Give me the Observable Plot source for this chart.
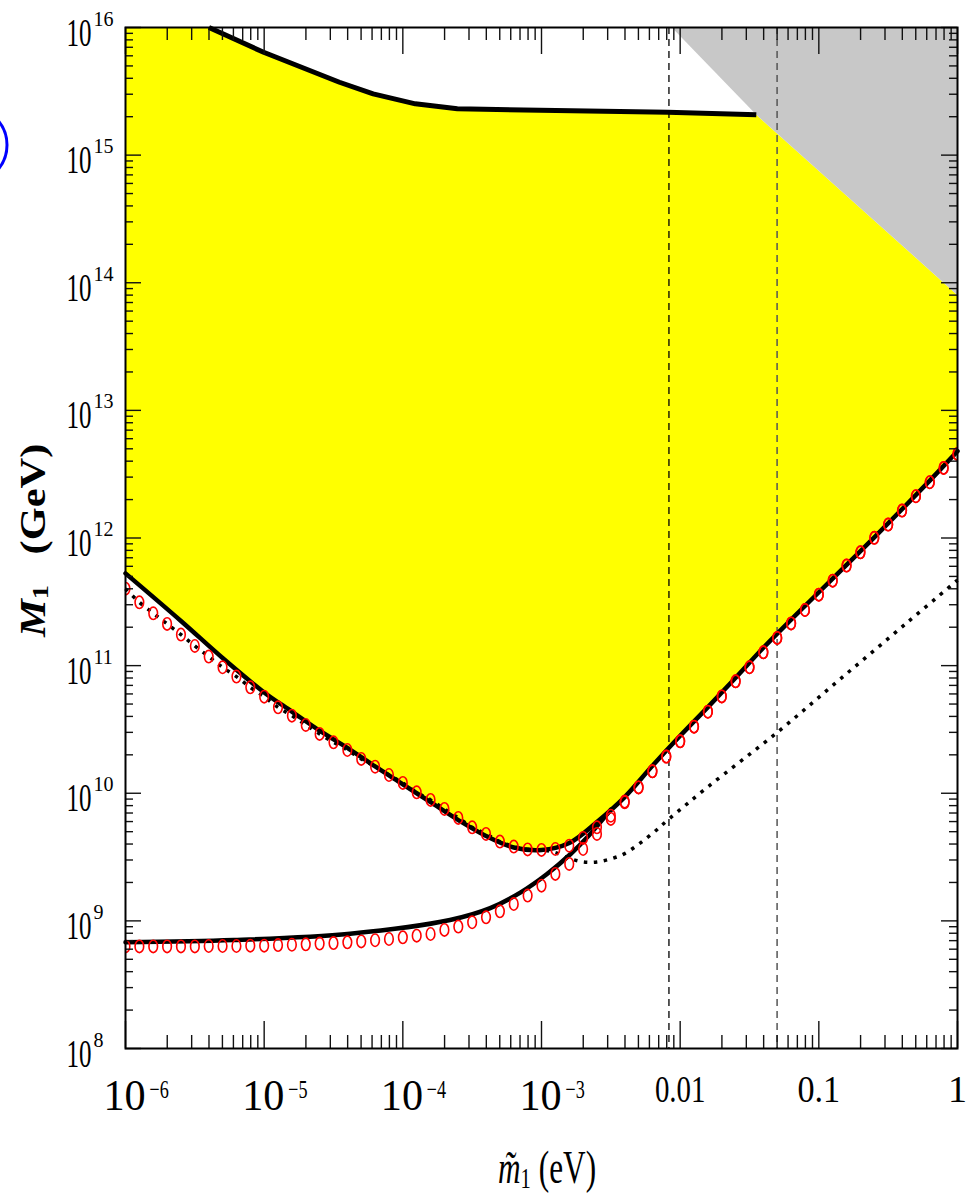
<!DOCTYPE html>
<html>
<head>
<meta charset="utf-8">
<script src="https://cdn.jsdelivr.net/npm/d3@7"></script>
<script src="https://cdn.jsdelivr.net/npm/@observablehq/plot@0.6"></script>
<style>
  html, body { margin: 0; padding: 0; background: #fff; }
  #chart { width: 967px; height: 1196px; overflow: hidden; }
</style>
</head>
<body>
<div id="chart"></div>
<script>
// ---------------- DATA (log10 values) ----------------
// x = log10( m̃1 / eV ), y = log10( M1 / GeV )

// red circle samples (two series sharing the same m̃1 grid)
const circleLogM = [-6.0,-5.9,-5.8,-5.7,-5.6,-5.5,-5.4,-5.3,-5.2,-5.1,-5.0,-4.9,-4.8,-4.7,-4.6,-4.5,-4.4,-4.3,-4.2,-4.1,
  -4.0,-3.9,-3.8,-3.7,-3.6,-3.5,-3.4,-3.3,-3.2,-3.1,-3.0,-2.9,-2.8,-2.7,-2.6,-2.5,-2.4,-2.3,-2.2,-2.1,
  -2.0,-1.9,-1.8,-1.7,-1.6,-1.5,-1.4,-1.3,-1.2,-1.1,-1.0,-0.9,-0.8,-0.7,-0.6,-0.5,-0.4,-0.3,-0.2,-0.1,0.0];
const circleUpperLogM1 = [11.603,11.496,11.410,11.327,11.243,11.154,11.071,10.987,10.914,10.830,
  10.757,10.673,10.608,10.535,10.465,10.399,10.339,10.269,10.208,10.143,
  10.081,10.007,9.948,9.877,9.807,9.733,9.681,9.621,9.582,9.560,
  9.556,9.563,9.589,9.650,9.733,9.824,9.935,10.046,10.172,10.287,
  10.407,10.522,10.639,10.759,10.877,10.987,11.104,11.217,11.331,11.436,
  11.556,11.666,11.784,11.888,12.001,12.105,12.215,12.327,12.437,12.549,12.659];
const circleLowerLogM1 = [8.800,8.800,8.800,8.800,8.800,8.800,8.803,8.803,8.803,8.806,
  8.806,8.810,8.813,8.816,8.822,8.826,8.832,8.839,8.848,8.858,
  8.871,8.884,8.897,8.929,8.955,8.989,9.028,9.075,9.132,9.198,
  9.276,9.368,9.446,9.563,9.681,9.799,9.929,10.046,10.172,10.287,
  10.407,10.522,10.639,10.759,10.877,10.987,11.104,11.217,11.331,11.436,
  11.556,11.666,11.784,11.888,12.001,12.105,12.215,12.327,12.437,12.549,12.659];

// thick solid curve: left branch, minimum, right branch (lower edge of the yellow region)
const solidALogM  = [-6.0,-5.6,-5.3,-5.0,-4.8,-4.6,-4.4,-4.2,-4.0,-3.8,-3.6,-3.4,-3.2,-3.0,-2.8,-2.6,-2.4,-2.2,-2.0,-1.8,-1.6,-1.4,-1.2,-1.0,-0.8,-0.6,-0.4,-0.2,0.0];
const solidALogM1 = [11.723,11.35,11.06,10.79,10.64,10.49,10.355,10.21,10.07,9.93,9.79,9.665,9.575,9.555,9.61,9.775,9.97,10.215,10.45,10.675,10.905,11.14,11.36,11.575,11.79,12.005,12.225,12.45,12.68];

// thick solid lower curve, joining the right branch
const solidBLogM  = [-6.0,-5.22,-4.38,-3.66,-3.37,-3.15,-2.96,-2.79,-2.67,-2.5];
const solidBLogM1 = [8.832,8.85,8.90,9.007,9.10,9.223,9.367,9.524,9.655,9.872];

// upper thick curve (top edge of the yellow region)
const upperLogM  = [-5.398,-5.004,-4.457,-4.214,-3.910,-3.607,-2.089,-1.451];
const upperLogM1 = [16.0,15.806,15.571,15.480,15.402,15.363,15.336,15.316];

// dotted curve
const dottedLogM  = [-6.0,-5.9,-5.8,-5.7,-5.6,-5.5,-5.4,-5.3,-5.2,-5.1,-5.0,-4.9,-4.8,-4.7,-4.6,-4.5,-4.4,-4.3,-4.2,-4.1,
  -4.0,-3.9,-3.8,-3.7,-3.6,-3.5,-3.4,-3.3,-3.2,-3.1,-3.0,-2.9,-2.8,-2.7,-2.6,-2.5,-2.4,-2.3,-2.2,-2.08,-1.8,-1.3,-0.84,-0.36,0.0];
const dottedLogM1 = [11.603,11.496,11.410,11.327,11.243,11.154,11.071,10.987,10.914,10.830,
  10.757,10.673,10.608,10.535,10.465,10.399,10.339,10.269,10.208,10.143,
  10.081,10.007,9.948,9.877,9.807,9.733,9.681,9.621,9.582,9.560,
  9.556,9.535,9.49,9.462,9.462,9.486,9.527,9.60,9.685,9.799,10.05,10.477,10.90,11.34,11.67];

// grey excluded triangle (corners)
const grayLogM  = [-2.06, 0.0, 0.0, -1.451];
const grayLogM1 = [16.0, 16.0, 13.903, 15.316];

// vertical dashed reference lines (eV)
const dashedBlack = [0.0083];
const dashedGrey  = [0.05];

// axis ticks
const xTickValues = [1e-6, 1e-5, 1e-4, 1e-3, 0.01, 0.1, 1];
const xTickBase   = ["10", "10", "10", "10"];
const xTickExp    = ["\u22126", "\u22125", "\u22124", "\u22123"];
const xTickPlain  = ["0.01", "0.1", "1"];
const yTickValues = [1e8, 1e9, 1e10, 1e11, 1e12, 1e13, 1e14, 1e15, 1e16];
const yTickExp    = ["8", "9", "10", "11", "12", "13", "14", "15", "16"];

// ---------------- BUILD TABLES ----------------
const P = v => Math.pow(10, v);
const pts = (xs, ys) => xs.map((x, i) => ({m: P(x), M: P(ys[i])}));

const circlesUpper = pts(circleLogM, circleUpperLogM1);
const circlesLower = pts(circleLogM, circleLowerLogM1);
const solidA = pts(solidALogM, solidALogM1);
const solidB = pts(solidBLogM, solidBLogM1);
const upper = pts(upperLogM, upperLogM1);
const dotted = pts(dottedLogM, dottedLogM1);
const gray = pts(grayLogM, grayLogM1);
const yellow = [
  {m: 1e-6, M: 1e16},
  ...upper,
  gray[2],
  ...solidA.slice().reverse()
];

const xPow = xTickValues.slice(0, 4).map((v, i) => ({v, base: xTickBase[i], exp: xTickExp[i]}));
const xPlain = xTickValues.slice(4).map((v, i) => ({v, t: xTickPlain[i]}));
const yLab = yTickValues.map((v, i) => ({v, exp: yTickExp[i]}));

const isPow10 = t => Math.abs(Math.log10(t) - Math.round(Math.log10(t))) < 1e-9;
const xMinor = d3.scaleLog().domain([1e-6, 1]).ticks().filter(t => !isPow10(t));
const yMinor = d3.scaleLog().domain([1e8, 1e16]).ticks().filter(t => !isPow10(t));

// elliptical open marker
const ellipse = {
  draw(ctx) {
    const rx = 4.3, ry = 6.2, k = 0.5523;
    ctx.moveTo(rx, 0);
    ctx.bezierCurveTo(rx, ry * k, rx * k, ry, 0, ry);
    ctx.bezierCurveTo(-rx * k, ry, -rx, ry * k, -rx, 0);
    ctx.bezierCurveTo(-rx, -ry * k, -rx * k, -ry, 0, -ry);
    ctx.bezierCurveTo(rx * k, -ry, rx, -ry * k, rx, 0);
    ctx.closePath();
  }
};

// ---------------- PLOT ----------------
const W = 967, H = 1196, mL = 125, mR = 10, mT = 27, mB = 148;
const pw = W - mL - mR, ph = H - mT - mB;
const font = "'Liberation Serif', 'DejaVu Serif', serif";
const tickStroke = {stroke: "#111", strokeWidth: 1.4};

const plot = Plot.plot({
  width: W, height: H,
  marginLeft: mL, marginRight: mR, marginTop: mT, marginBottom: mB,
  x: {type: "log", domain: [1e-6, 1], axis: null},
  y: {type: "log", domain: [1e8, 1e16], axis: null},
  style: {background: "white", fontFamily: font, overflow: "visible"},
  marks: [
    Plot.line(yellow, {x: "m", y: "M", fill: "#ffff00", stroke: "none", curve: "linear"}),
    Plot.line(gray, {x: "m", y: "M", fill: "#c8c8c8", stroke: "none", curve: "linear"}),
    Plot.ruleX(dashedBlack, {stroke: "#000", strokeWidth: 1.3, strokeDasharray: "7,5"}),
    Plot.ruleX(dashedGrey, {stroke: "#555", strokeWidth: 1.5, strokeDasharray: "7,5"}),
    Plot.line(upper, {x: "m", y: "M", stroke: "#000", strokeWidth: 5, strokeLinecap: "butt"}),
    Plot.line(solidA, {x: "m", y: "M", stroke: "#000", strokeWidth: 4.5, curve: "catmull-rom"}),
    Plot.line(solidB, {x: "m", y: "M", stroke: "#000", strokeWidth: 4.5, curve: "catmull-rom"}),
    Plot.line(dotted, {x: "m", y: "M", stroke: "#000", strokeWidth: 3.5, strokeDasharray: "3.5,6.5", strokeLinecap: "butt", curve: "catmull-rom"}),
    Plot.dot(circlesUpper, {x: "m", y: "M", symbol: ellipse, stroke: "#ff0000", fill: "none", strokeWidth: 1.6, clip: true}),
    Plot.dot(circlesLower, {x: "m", y: "M", symbol: ellipse, stroke: "#ff0000", fill: "none", strokeWidth: 1.6, clip: true}),
    // ticks (inward, all four sides)
    Plot.ruleX(xTickValues, {...tickStroke, insetTop: ph - 27}),
    Plot.ruleX(xTickValues, {...tickStroke, insetBottom: ph - 27}),
    Plot.ruleX(xMinor, {...tickStroke, insetTop: ph - 13}),
    Plot.ruleX(xMinor, {...tickStroke, insetBottom: ph - 13}),
    Plot.ruleY(yTickValues, {...tickStroke, insetRight: pw - 16}),
    Plot.ruleY(yTickValues, {...tickStroke, insetLeft: pw - 16}),
    Plot.ruleY(yMinor, {...tickStroke, insetRight: pw - 8}),
    Plot.ruleY(yMinor, {...tickStroke, insetLeft: pw - 8}),
    Plot.frame({stroke: "#000", strokeWidth: 2}),
    // x tick labels
    Plot.text(xPow, {x: "v", text: "base", frameAnchor: "bottom", lineAnchor: "bottom", textAnchor: "start", dx: -22, dy: 61, fontSize: 44, fontFamily: font}),
    Plot.text(xPow, {x: "v", text: "exp", frameAnchor: "bottom", lineAnchor: "bottom", textAnchor: "start", dx: 24, dy: 49, fontSize: 26, fontFamily: font}),
    Plot.text(xPlain, {x: "v", text: "t", frameAnchor: "bottom", lineAnchor: "bottom", textAnchor: "middle", dy: 53, fontSize: 38, fontFamily: font}),
    // y tick labels
    Plot.text(yLab, {y: "v", text: () => "10", frameAnchor: "left", lineAnchor: "bottom", textAnchor: "start", dx: -59, dy: 18, fontSize: 40, fontFamily: font}),
    Plot.text(yLab, {y: "v", text: "exp", frameAnchor: "left", lineAnchor: "bottom", textAnchor: "start", dx: -32, dy: -2, fontSize: 20, fontFamily: font})
  ]
});

// condense a few labels to match the narrow lettering of the original
const svg = d3.select(plot);
const textGroups = svg.selectAll('g[aria-label="text"]').nodes();
const [gXBase, gXExp, gXPlain, gYBase] = textGroups;
function condense(el, factor, fallbackLength) {
  const tr = el.getAttribute("transform");
  if (tr && /translate/.test(tr) && !el.hasAttribute("x") && !el.hasAttribute("dx")) {
    el.setAttribute("transform", tr + ` scale(${factor},1)`);
  } else {
    el.setAttribute("textLength", fallbackLength);
    el.setAttribute("lengthAdjust", "spacingAndGlyphs");
  }
}
d3.select(gYBase).selectAll("text").each(function() { condense(this, 0.625, 25); });
d3.select(gXExp).selectAll("text").each(function() { condense(this, 0.7, 19); });
d3.select(gXBase).selectAll("text").each(function() { condense(this, 0.96, 42); });
d3.select(gXPlain).selectAll("text").each(function() {
  const t = this.textContent;
  if (t === "0.01") condense(this, 0.76, 50);
  else if (t === "0.1") condense(this, 0.9, 45);
});

// axis titles
const g = svg.append("g").attr("font-family", font).attr("fill", "#000");
const xl = g.append("text")
  .attr("transform", "translate(547,1183) scale(0.68,1)")
  .attr("text-anchor", "middle").attr("font-size", 46);
xl.append("tspan").attr("font-style", "italic").text("m\u0303");
xl.append("tspan").attr("font-size", 30).attr("dy", 5).text("1");
xl.append("tspan").attr("dy", -5).attr("dx", 12).text("(eV)");

const yl = g.append("text")
  .attr("transform", "translate(45,637) rotate(-90) scale(1.18,1)")
  .attr("text-anchor", "start").attr("font-size", 36).attr("font-weight", "bold");
yl.append("tspan").attr("font-style", "italic").text("M");
yl.append("tspan").attr("font-size", 24).attr("dy", 3).text("1");
yl.append("tspan").attr("dy", -3).attr("dx", 26).text("(GeV)");

// clipped blue marker at the left edge
svg.append("circle").attr("cx", -31).attr("cy", 145).attr("r", 38)
  .attr("fill", "none").attr("stroke", "#0000ff").attr("stroke-width", 3);

document.getElementById("chart").appendChild(plot);
</script>
</body>
</html>
